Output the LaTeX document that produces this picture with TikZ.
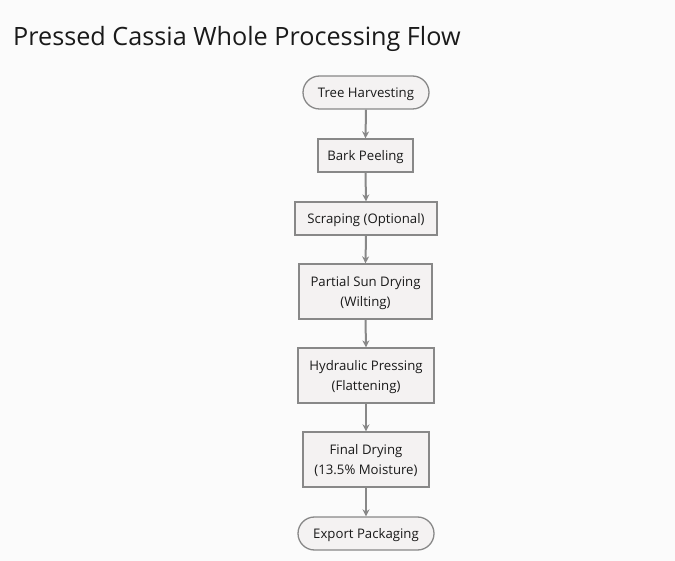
\documentclass[tikz,border=0pt]{standalone}
\usepackage{fontspec}
\setmainfont{Open Sans}
\usetikzlibrary{arrows.meta}
\definecolor{bg}{HTML}{FBFBFB}
\definecolor{nodefill}{HTML}{F4F2F2}
\definecolor{edge}{HTML}{888888}
\definecolor{txt}{HTML}{1A1A1A}
\begin{document}
\begin{tikzpicture}[x=1pt,y=-1pt,
  base/.style={draw=edge,fill=nodefill,line width=1.3pt,text=txt,font=\fontsize{13.2}{20.5}\selectfont,align=center,inner sep=0pt,text depth=0pt},
  rbox/.style={base,rectangle},
  pill/.style={base,rounded corners=16.5pt},
  flow/.style={draw=edge,line width=2pt,-{Stealth[length=7pt,width=7pt]}}]
\fill[bg] (0,0) rectangle (675,561);
\useasboundingbox (0,0) rectangle (675,561);
\node[anchor=base west,inner sep=0pt,text=txt,font=\fontsize{25.2}{30}\selectfont] (title) at (13,46) {Pressed Cassia Whole Processing Flow};
\node[pill,minimum width=126pt,minimum height=33pt] (n1) at (366,92.5) {Tree Harvesting};
\node[rbox,minimum width=95pt,minimum height=33pt] (n2) at (365.5,155.5) {Bark Peeling};
\node[rbox,minimum width=142pt,minimum height=33pt] (n3) at (366,218.5) {Scraping (Optional)};
\node[rbox,minimum width=133pt,minimum height=55pt] (n4) at (365.5,291.5) {Partial Sun Drying\\(Wilting)};
\node[rbox,minimum width=136pt,minimum height=55pt] (n5) at (366,375.5) {Hydraulic Pressing\\(Flattening)};
\node[rbox,minimum width=126pt,minimum height=55pt] (n6) at (366,459.5) {Final Drying\\(13.5\% Moisture)};
\node[pill,minimum width=136pt,minimum height=33pt] (n7) at (366,533.5) {Export Packaging};
\foreach \a/\b in {n1/n2,n2/n3,n3/n4,n4/n5,n5/n6,n6/n7}
  \draw[flow] (\a.south) -- (\b.north);
\end{tikzpicture}
\end{document}
